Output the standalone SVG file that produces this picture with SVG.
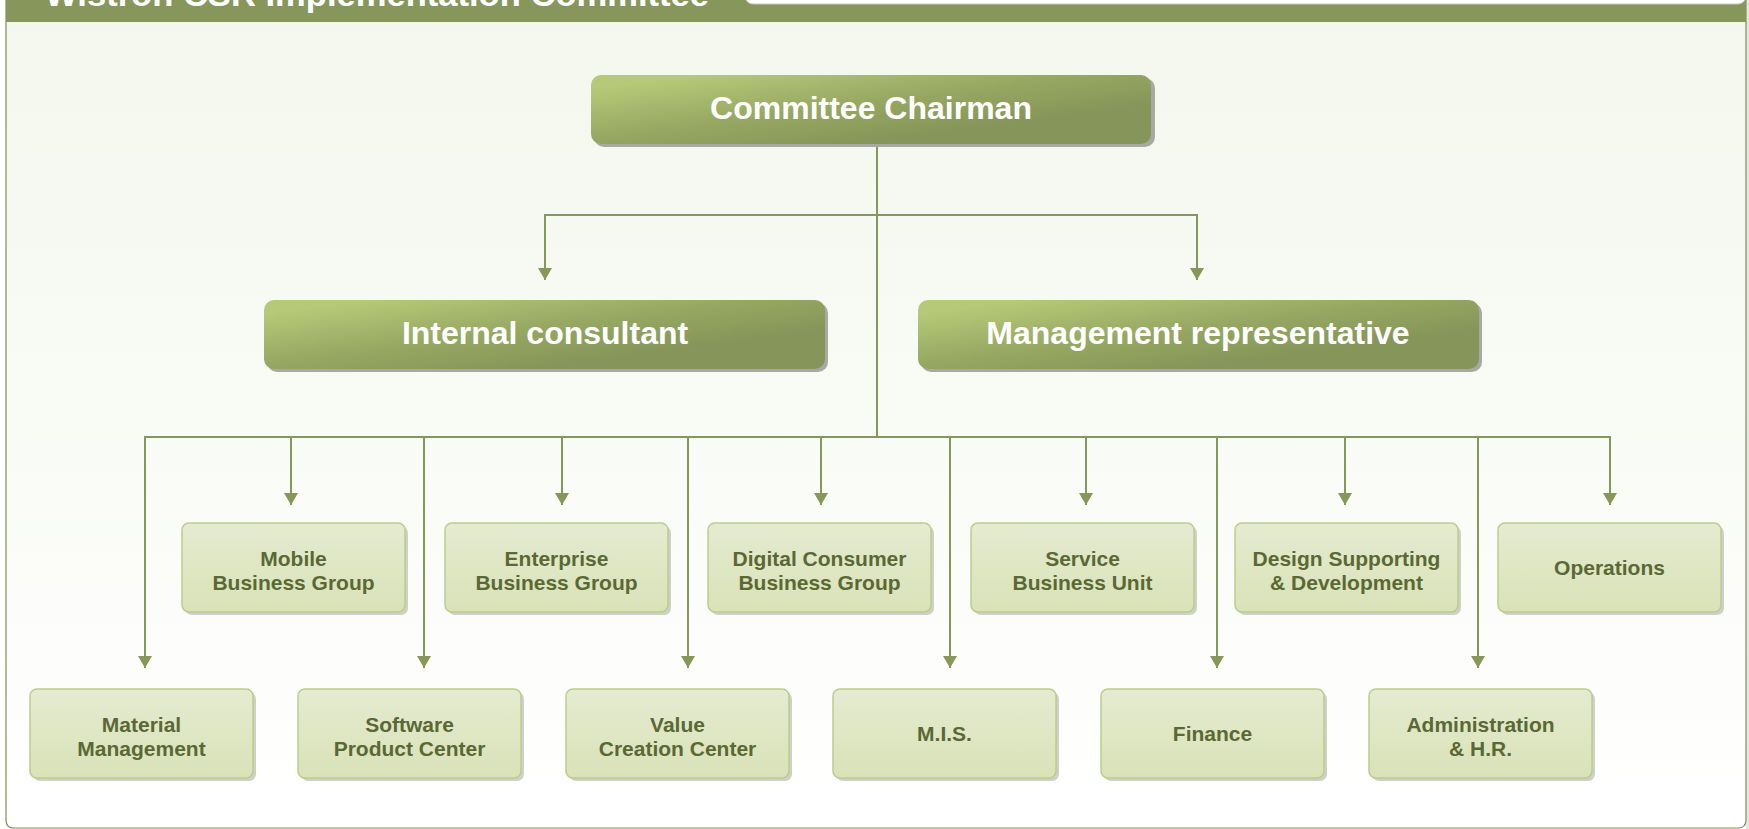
<svg xmlns="http://www.w3.org/2000/svg" width="1749" height="829" viewBox="0 0 1749 829">
<defs>
<linearGradient id="panelG" x1="0" y1="0" x2="0" y2="1">
<stop offset="0" stop-color="#F3F7EC"/>
<stop offset="1" stop-color="#FFFFFF"/>
</linearGradient>
<linearGradient id="bigG" x1="0" y1="0.2" x2="0.65" y2="0.8">
<stop offset="0" stop-color="#B6C978"/>
<stop offset="0.55" stop-color="#97A862"/>
<stop offset="1" stop-color="#86965A"/>
</linearGradient>
<linearGradient id="smallG" x1="0" y1="0" x2="0" y2="1">
<stop offset="0" stop-color="#E5EBD1"/>
<stop offset="1" stop-color="#D9E2B7"/>
</linearGradient>
<marker id="arr" viewBox="0 0 12 14" refX="12" refY="7" markerWidth="12" markerHeight="14" markerUnits="userSpaceOnUse" orient="auto">
<path d="M0,0 L12,7 L0,14 Z" fill="#849857"/>
</marker>
</defs>
<style>
.big rect.b{fill:url(#bigG);}
.shadowBig{fill:#A9A9A4;}
.shadowS{fill:#CFCFCB;}
.small rect.b{fill:url(#smallG);stroke:#BCCD8B;stroke-width:1.5;}
.bt{font-family:"Liberation Sans",Arial,sans-serif;font-weight:bold;font-size:32px;fill:#FFFFFF;text-anchor:middle;}
.st{font-family:"Liberation Sans",Arial,sans-serif;font-weight:bold;font-size:21px;fill:#5A6934;text-anchor:middle;}
#connectors path,#connectors line{stroke:#849857;stroke-width:2;fill:none;}
</style>

<!-- frame -->
<rect x="1746" y="0" width="3" height="829" fill="#E6E6E4"/>
<path d="M6,0 L1746,0 L1746,820 Q1746,828 1738,828 L14,828 Q6,828 6,820 Z" fill="url(#panelG)" stroke="#7F8F55" stroke-width="1.2"/>
<rect x="6" y="0" width="1740" height="22" fill="#87965A"/>
<rect x="745" y="-20" width="1001" height="24" rx="8" fill="#FFFFFF" stroke="#C9C9C4" stroke-width="1"/>
<text x="45" y="6" font-family="Liberation Sans,Arial,sans-serif" font-weight="bold" font-size="34" fill="#FFFFFF" textLength="664" lengthAdjust="spacingAndGlyphs">Wistron CSR Implementation Committee</text>

<!-- connectors -->
<g id="connectors">
<line x1="877" y1="145" x2="877" y2="437"/>
<path d="M545,215 L1197,215"/>
<line x1="545" y1="214" x2="545" y2="280" marker-end="url(#arr)"/>
<line x1="1197" y1="214" x2="1197" y2="280" marker-end="url(#arr)"/>
<path d="M145,437 L1610,437"/>
<line x1="145" y1="436" x2="145" y2="668" marker-end="url(#arr)"/>
<line x1="291" y1="436" x2="291" y2="505" marker-end="url(#arr)"/>
<line x1="424" y1="436" x2="424" y2="668" marker-end="url(#arr)"/>
<line x1="562" y1="436" x2="562" y2="505" marker-end="url(#arr)"/>
<line x1="688" y1="436" x2="688" y2="668" marker-end="url(#arr)"/>
<line x1="821" y1="436" x2="821" y2="505" marker-end="url(#arr)"/>
<line x1="950" y1="436" x2="950" y2="668" marker-end="url(#arr)"/>
<line x1="1086" y1="436" x2="1086" y2="505" marker-end="url(#arr)"/>
<line x1="1217" y1="436" x2="1217" y2="668" marker-end="url(#arr)"/>
<line x1="1345" y1="436" x2="1345" y2="505" marker-end="url(#arr)"/>
<line x1="1478" y1="436" x2="1478" y2="668" marker-end="url(#arr)"/>
<line x1="1610" y1="436" x2="1610" y2="505" marker-end="url(#arr)"/>
</g>

<!-- big nodes -->
<g id="chairman" class="big">
<rect class="shadowBig" x="594" y="78" width="561" height="69" rx="10"/>
<rect class="b" x="591" y="75" width="560" height="69" rx="10"/>
<text class="bt" x="871" y="119">Committee Chairman</text>
</g>
<g id="internal-consultant" class="big">
<rect class="shadowBig" x="267" y="303" width="561" height="69" rx="10"/>
<rect class="b" x="264" y="300" width="561" height="69" rx="10"/>
<text class="bt" x="545" y="344">Internal consultant</text>
</g>
<g id="management-representative" class="big">
<rect class="shadowBig" x="921" y="303" width="561" height="69" rx="10"/>
<rect class="b" x="918" y="300" width="561" height="69" rx="10"/>
<text class="bt" x="1198" y="344">Management representative</text>
</g>

<!-- upper row -->
<g id="mobile" class="small">
<rect class="shadowS" x="185" y="526" width="223" height="89" rx="7"/>
<rect class="b" x="182" y="523" width="223" height="89" rx="7"/>
<text class="st" x="293.5" y="566">Mobile</text>
<text class="st" x="293.5" y="590">Business Group</text>
</g>
<g id="enterprise" class="small">
<rect class="shadowS" x="448" y="526" width="223" height="89" rx="7"/>
<rect class="b" x="445" y="523" width="223" height="89" rx="7"/>
<text class="st" x="556.5" y="566">Enterprise</text>
<text class="st" x="556.5" y="590">Business Group</text>
</g>
<g id="digital" class="small">
<rect class="shadowS" x="711" y="526" width="223" height="89" rx="7"/>
<rect class="b" x="708" y="523" width="223" height="89" rx="7"/>
<text class="st" x="819.5" y="566">Digital Consumer</text>
<text class="st" x="819.5" y="590">Business Group</text>
</g>
<g id="service" class="small">
<rect class="shadowS" x="974" y="526" width="223" height="89" rx="7"/>
<rect class="b" x="971" y="523" width="223" height="89" rx="7"/>
<text class="st" x="1082.5" y="566">Service</text>
<text class="st" x="1082.5" y="590">Business Unit</text>
</g>
<g id="design" class="small">
<rect class="shadowS" x="1238" y="526" width="223" height="89" rx="7"/>
<rect class="b" x="1235" y="523" width="223" height="89" rx="7"/>
<text class="st" x="1346.5" y="566">Design Supporting</text>
<text class="st" x="1346.5" y="590">&amp; Development</text>
</g>
<g id="operations" class="small">
<rect class="shadowS" x="1501" y="526" width="223" height="89" rx="7"/>
<rect class="b" x="1498" y="523" width="223" height="89" rx="7"/>
<text class="st" x="1609.5" y="575">Operations</text>
</g>

<!-- lower row -->
<g id="material" class="small">
<rect class="shadowS" x="33" y="692" width="223" height="89" rx="7"/>
<rect class="b" x="30" y="689" width="223" height="89" rx="7"/>
<text class="st" x="141.5" y="732">Material</text>
<text class="st" x="141.5" y="756">Management</text>
</g>
<g id="software" class="small">
<rect class="shadowS" x="301" y="692" width="223" height="89" rx="7"/>
<rect class="b" x="298" y="689" width="223" height="89" rx="7"/>
<text class="st" x="409.5" y="732">Software</text>
<text class="st" x="409.5" y="756">Product Center</text>
</g>
<g id="value" class="small">
<rect class="shadowS" x="569" y="692" width="223" height="89" rx="7"/>
<rect class="b" x="566" y="689" width="223" height="89" rx="7"/>
<text class="st" x="677.5" y="732">Value</text>
<text class="st" x="677.5" y="756">Creation Center</text>
</g>
<g id="mis" class="small">
<rect class="shadowS" x="836" y="692" width="223" height="89" rx="7"/>
<rect class="b" x="833" y="689" width="223" height="89" rx="7"/>
<text class="st" x="944.5" y="741">M.I.S.</text>
</g>
<g id="finance" class="small">
<rect class="shadowS" x="1104" y="692" width="223" height="89" rx="7"/>
<rect class="b" x="1101" y="689" width="223" height="89" rx="7"/>
<text class="st" x="1212.5" y="741">Finance</text>
</g>
<g id="admin" class="small">
<rect class="shadowS" x="1372" y="692" width="223" height="89" rx="7"/>
<rect class="b" x="1369" y="689" width="223" height="89" rx="7"/>
<text class="st" x="1480.5" y="732">Administration</text>
<text class="st" x="1480.5" y="756">&amp; H.R.</text>
</g>
</svg>
